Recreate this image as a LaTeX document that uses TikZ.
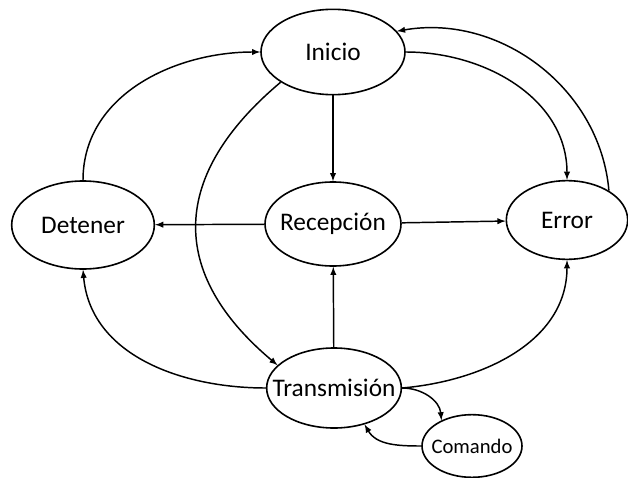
\documentclass[tikz,border=0pt]{standalone}
\usepackage{fontspec}
\setmainfont{Carlito}
\usepackage{tikz}
\usetikzlibrary{shapes.geometric}
\usetikzlibrary{positioning}
\usetikzlibrary{calc}

\newcommand{\ajustado}[1]{\makebox[0pt]{#1}}

\begin{document}
\begin{tikzpicture}[x=0.75pt,y=-0.75pt,
every node/.style={font=\fontsize{19}{21}\selectfont},
estado/.style={draw, ellipse, line width=1.2pt, inner sep=0pt},
flecha/.style={-latex, line width=1.1pt}]

\useasboundingbox (0,0) rectangle (628,478);

\node (ini) at (333,52) [estado, minimum width=108pt, minimum height=64pt] {\ajustado{Inicio}};
\node (rec) at (333,224) [estado, minimum width=102pt, minimum height=63pt] {\ajustado{Recepción}};
\node (det) at (83,225) [estado, minimum width=107pt, minimum height=66pt] {\ajustado{Detener}};
\node (err) at (567,220) [estado, minimum width=91pt, minimum height=59pt] {\ajustado{Error}};
\node (tra) at (334,388) [estado, minimum width=101pt, minimum height=60pt] {\ajustado{Transmisión}};
\node (com) at (472,446) [estado, minimum width=75pt, minimum height=47pt,
  font=\fontsize{15.5}{17}\selectfont] {\ajustado{Comando}};

% rectas
\draw [flecha] (ini) -- (rec);
\draw [flecha] (rec) -- (det);
\draw [flecha] (rec) -- (err);
\draw [flecha] (tra) -- (rec);

% curvas
\draw [flecha] (det.north) to[out=90,in=180] (ini.west);
\draw [flecha] (ini.east) to[out=0,in=90] (err.north);
\draw [flecha] (err.35) to[out=95,in=10] (ini.18);
\draw [flecha] (ini.210) to[out=220,in=140,looseness=1.3] (tra.158);
\draw [flecha] (tra.west) to[out=180,in=-85] (det.south);
\draw [flecha] (tra.east) to[out=5,in=-90] (err.south);
\draw [flecha] (tra.east) to[out=0,in=95] (com.140);
\draw [flecha] (com.west) to[out=180,in=-60] (tra.-50);

\end{tikzpicture}
\end{document}
